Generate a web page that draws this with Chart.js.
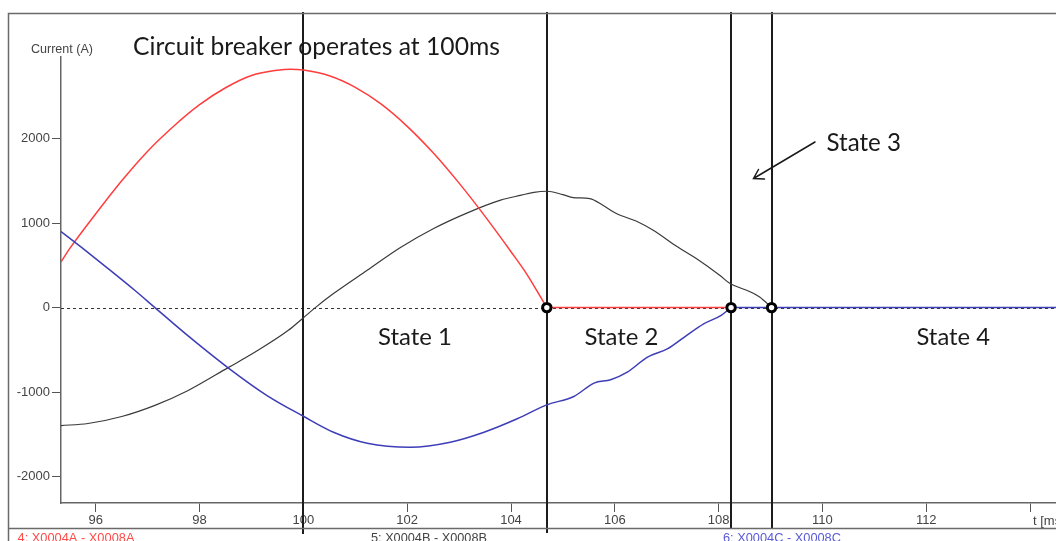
<!DOCTYPE html>
<html>
<head>
<meta charset="utf-8">
<title>Circuit breaker operation – phase currents</title>
<script src="https://cdn.jsdelivr.net/npm/chart.js@4/dist/chart.umd.min.js"></script>
<style>
  html, body { margin: 0; padding: 0; background: #fff; overflow: hidden; }
  canvas { display: block; }
</style>
</head>
<body>
<canvas id="chart" width="1056" height="541"></canvas>
<script>
// Axis bounds (time in ms, current in A)
const timeRange = [95.33, 114.5];
const currentRange = [-2311, 2964];

// Tick positions and labels
const xTickValues = [96, 98, 100, 102, 104, 106, 108, 110, 112, 114];
const xTickLabels = ['96', '98', '100', '102', '104', '106', '108', '110', '112', ''];
const yTickValues = [-2000, -1000, 0, 1000, 2000];
const yTickLabels = ['-2000', '-1000', '0', '1000', '2000'];

// Switching instants: trip command, pole A clears, pole C clears, pole B clears
const stateTimes = [100, 104.69, 108.24, 109.02];

// Phase A current (red) until its pole clears
const redT = [95.33, 95.5, 96, 96.5, 97, 97.5, 98, 98.5, 99, 99.5, 99.75, 100, 100.5, 101, 101.5, 102, 102.5, 103, 103.5, 104, 104.3, 104.69];
const redI = [540, 700, 1110, 1500, 1850, 2145, 2400, 2600, 2745, 2808, 2820, 2810, 2742, 2605, 2406, 2144, 1831, 1472, 1079, 661, 400, 0];

// Phase B current (dark grey)
const blackT = [95.33, 95.85, 96.5, 97.14, 97.78, 98.55, 99.07, 99.71, 100.0, 100.23, 100.58, 101.23, 101.87, 102.51, 103.16, 103.8, 104.2, 104.44, 104.69,
                105.0, 105.2, 105.52, 105.77, 106.03, 106.42, 106.74, 107.19, 107.57, 108.02, 108.22, 108.54, 108.79, 109.02];
const blackI = [-1395, -1371, -1288, -1156, -980, -710, -526, -269, -120, 0, 166, 442, 711, 936, 1121, 1271, 1330, 1363, 1376,
                1336, 1301, 1289, 1210, 1112, 1021, 914, 725, 580, 382, 284, 205, 125, 0];

// Phase C current (blue) until its pole clears
const blueT = [95.33, 95.75, 96.25, 96.75, 97.14, 97.75, 98.55, 99.3, 100.0, 100.58, 101.23, 102.06, 102.83, 103.48, 104.12, 104.69,
               105.21, 105.6, 105.92, 106.24, 106.63, 107.02, 107.34, 107.72, 108.05, 108.24];
const blueI = [900, 700, 455, 205, 0, -320, -712, -1040, -1285, -1474, -1604, -1651, -1592, -1474, -1315, -1150,
               -1051, -893, -853, -763, -585, -486, -348, -190, -91, 0];

const RED = '#ff3d3d', BLUE = '#3d3db8', DARK = '#3a3a3a';
const SMALL_FONT = "'Liberation Sans', Arial, sans-serif";
const NOTE_FONT = "Lato, 'Open Sans', 'Noto Sans', sans-serif";

const pts = (xs, ys) => xs.map((t, i) => ({ x: t, y: ys[i] }));

// Draw text scaled so that it spans a given width
function fittedText(ctx, text, left, baseline, width, family, color) {
  ctx.font = '100px ' + family;
  const size = 100 * width / ctx.measureText(text).width;
  ctx.font = size.toFixed(2) + 'px ' + family;
  ctx.fillStyle = color;
  ctx.textAlign = 'left';
  ctx.textBaseline = 'alphabetic';
  ctx.fillText(text, left, baseline);
}

const overlay = {
  id: 'overlay',
  beforeDatasetsDraw(chart) {
    const { ctx, chartArea, scales: { x, y } } = chart;
    ctx.save();
    // dotted zero reference
    const y0 = Math.round(y.getPixelForValue(0)) + 0.5;
    ctx.strokeStyle = '#333';
    ctx.lineWidth = 1;
    ctx.setLineDash([3, 3]);
    ctx.beginPath();
    ctx.moveTo(chartArea.left, y0);
    ctx.lineTo(chartArea.right, y0);
    ctx.stroke();
    ctx.setLineDash([]);
    // switching instants
    const bottoms = [534, 533, 528, 528];
    ctx.strokeStyle = '#1c1c1c';
    ctx.lineWidth = 2;
    stateTimes.forEach((t, i) => {
      const px = Math.round(x.getPixelForValue(t));
      ctx.beginPath();
      ctx.moveTo(px, 12);
      ctx.lineTo(px, bottoms[i]);
      ctx.stroke();
    });
    ctx.restore();
  },
  afterDraw(chart) {
    const { ctx } = chart;
    ctx.save();
    // outer frame
    ctx.strokeStyle = '#6a6a6a';
    ctx.lineWidth = 1.5;
    ctx.beginPath();
    ctx.moveTo(8.5, 541);
    ctx.lineTo(8.5, 13.5);
    ctx.lineTo(1056, 13.5);
    ctx.moveTo(8.5, 528.5);
    ctx.lineTo(1056, 528.5);
    ctx.stroke();

    // axis titles
    fittedText(ctx, 'Current (A)', 31, 53, 62, SMALL_FONT, '#444');
    ctx.font = '13px ' + SMALL_FONT;
    ctx.fillText('t [ms]', 1033, 525);

    // trace names
    fittedText(ctx, '4: X0004A - X0008A', 17.5, 542, 117, SMALL_FONT, '#ff4a4a');
    fittedText(ctx, '5: X0004B - X0008B', 371, 542, 116, SMALL_FONT, '#444');
    fittedText(ctx, '6: X0004C - X0008C', 723, 542, 118, SMALL_FONT, '#5a5ad6');

    // annotations
    const ink = '#1a1a1a';
    fittedText(ctx, 'Circuit breaker operates at 100ms', 133, 54.5, 367, NOTE_FONT, ink);
    fittedText(ctx, 'State 1', 378, 345, 74, NOTE_FONT, ink);
    fittedText(ctx, 'State 2', 584.5, 344.5, 74, NOTE_FONT, ink);
    fittedText(ctx, 'State 3', 826.5, 151, 74.5, NOTE_FONT, ink);
    fittedText(ctx, 'State 4', 916.5, 344.5, 73.5, NOTE_FONT, ink);

    // pointer to the short interval between the last two openings
    ctx.strokeStyle = ink;
    ctx.lineWidth = 1.5;
    ctx.lineCap = 'round';
    ctx.beginPath();
    ctx.moveTo(815, 142);
    ctx.lineTo(753.5, 178.5);
    ctx.moveTo(758.5, 169.5);
    ctx.lineTo(753.5, 178.5);
    ctx.lineTo(764.5, 179);
    ctx.stroke();
    ctx.restore();
  }
};

const lineStyle = (color, width) => ({
  showLine: true, borderColor: color, borderWidth: width, pointRadius: 0,
  cubicInterpolationMode: 'monotone', fill: false
});

new Chart(document.getElementById('chart'), {
  type: 'scatter',
  data: {
    datasets: [
      { label: 'Pole openings', data: stateTimes.slice(1).map(t => ({ x: t, y: 0 })), showLine: false,
        pointRadius: 4.2, pointBorderWidth: 3, pointBorderColor: '#000', pointBackgroundColor: '#fff', order: 0 },
      { label: 'C', data: pts(blueT, blueI), ...lineStyle(BLUE, 1.5), order: 1 },
      { label: 'C open', data: pts([stateTimes[2], timeRange[1]], [0, 0]), ...lineStyle(BLUE, 1.5), order: 1 },
      { label: 'A', data: pts(redT, redI), ...lineStyle(RED, 1.5), order: 2 },
      { label: 'A open', data: pts([stateTimes[1], stateTimes[2]], [0, 0]), ...lineStyle(RED, 1.5), order: 2 },
      { label: 'B', data: pts(blackT, blackI), ...lineStyle(DARK, 1.2), order: 3 }
    ]
  },
  options: {
    responsive: false,
    animation: false,
    events: [],
    layout: { autoPadding: false, padding: { top: 57, left: 0, right: 0, bottom: 0 } },
    plugins: { legend: { display: false }, tooltip: { enabled: false } },
    scales: {
      x: {
        type: 'linear',
        min: timeRange[0], max: timeRange[1],
        afterBuildTicks: s => { s.ticks = xTickValues.map(v => ({ value: v })); },
        afterFit: s => { s.height = 38; s.paddingLeft = 0; s.paddingRight = 0; },
        ticks: {
          autoSkip: false, maxRotation: 0, padding: 1, color: '#444',
          font: { family: SMALL_FONT, size: 13 },
          callback: (v) => xTickLabels[xTickValues.indexOf(v)] ?? ''
        },
        grid: { drawOnChartArea: false, drawTicks: true, tickLength: 9, color: '#555', lineWidth: 1 },
        border: { display: true, color: '#666', width: 1.5 }
      },
      y: {
        type: 'linear',
        min: currentRange[0], max: currentRange[1],
        afterBuildTicks: s => { s.ticks = yTickValues.map(v => ({ value: v })); },
        afterFit: s => { s.width = 61; s.paddingTop = 0; s.paddingBottom = 0; },
        ticks: {
          padding: 2, color: '#444',
          font: { family: SMALL_FONT, size: 13 },
          callback: (v) => yTickLabels[yTickValues.indexOf(v)] ?? ''
        },
        grid: { drawOnChartArea: false, drawTicks: true, tickLength: 9, color: '#555', lineWidth: 1 },
        border: { display: true, color: '#666', width: 1.5 }
      }
    }
  },
  plugins: [overlay]
});
</script>
</body>
</html>
